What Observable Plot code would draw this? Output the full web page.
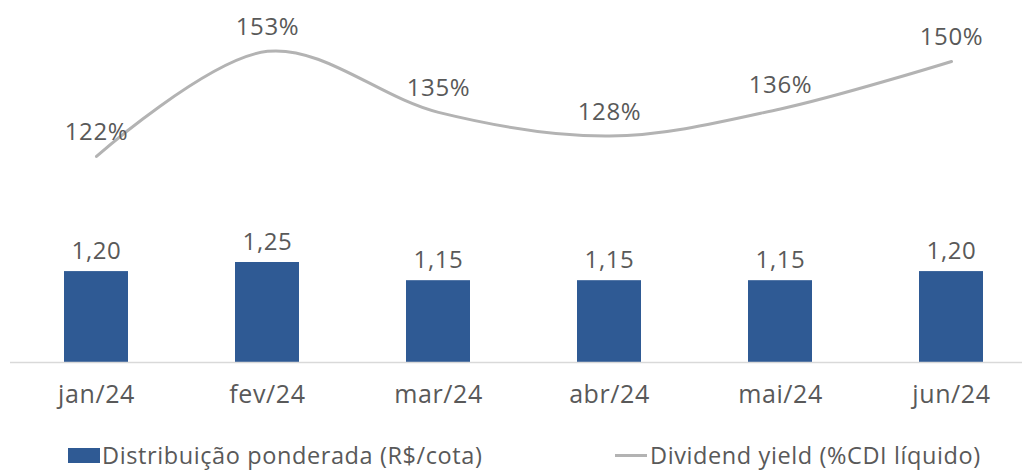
<!DOCTYPE html>
<html>
<head>
<meta charset="utf-8">
<script src="https://cdn.jsdelivr.net/npm/d3@7"></script>
<script src="https://cdn.jsdelivr.net/npm/@observablehq/plot@0.6"></script>
<style>
  html, body { margin: 0; padding: 0; background: #fff; }
  #wrap { position: relative; width: 1024px; height: 470px; overflow: hidden; font-family: "Open Sans", sans-serif; }
  #wrap svg { position: absolute; left: 0; top: 0; }
  .legend { position: absolute; top: 443px; font-size: 23.5px; letter-spacing: 0.6px; color: #595959; white-space: nowrap; display: flex; align-items: center; line-height: 24px; }
  .sw { display: inline-block; width: 32px; height: 15px; background: #2F5A94; margin-right: 2px; }
  .ln { display: inline-block; width: 32px; height: 3px; background: #b3b3b3; margin-right: 3px; }
</style>
</head>
<body>
<div id="wrap"></div>
<script>
const months = ["jan/24", "fev/24", "mar/24", "abr/24", "mai/24", "jun/24"];
const distribution = [1.20, 1.25, 1.15, 1.15, 1.15, 1.20];
const distributionLabels = ["1,20", "1,25", "1,15", "1,15", "1,15", "1,20"];
const dividendYield = [122, 153, 135, 128, 136, 150];
const yieldLabels = ["122%", "153%", "135%", "128%", "136%", "150%"];
const legendLabels = ["Distribuição ponderada (R$/cota)", "Dividend yield (%CDI líquido)"];

const bars = months.map((m, i) => ({month: m, value: distribution[i], label: distributionLabels[i]}));
const line = months.map((m, i) => ({month: m, value: dividendYield[i], label: yieldLabels[i]}));

const W = 1024, H = 420;
const xOpts = {type: "band", domain: months, range: [9.4, 1036.6], paddingInner: 0.626, paddingOuter: 0.313, align: 0.5};
const common = {width: W, height: H, marginTop: 0, marginBottom: 58, marginLeft: 10, marginRight: 2,
  style: {fontFamily: "'Open Sans', sans-serif", background: "transparent", overflow: "visible", letterSpacing: "0.6px"}};

const barPlot = Plot.plot({
  ...common,
  x: {...xOpts, label: null},
  y: {domain: [0.7, 2.691], axis: null},
  marks: [
    Plot.barY(bars, {x: "month", y1: 0.7, y2: "value", fill: "#2F5A94"}),
    Plot.ruleY([0.7], {stroke: "#d9d9d9", strokeWidth: 1.5}),
    Plot.text(bars, {x: "month", y: "value", text: "label", dy: -20, lineAnchor: "middle", fill: "#595959", fontSize: 24}),
    Plot.axisX({tickSize: 0, tickPadding: 23, fontSize: 25, color: "#595959", label: null})
  ]
});

const linePlot = Plot.plot({
  ...common,
  x: {...xOpts, axis: null},
  y: {domain: [61.2, 168.0], axis: null},
  marks: [
    Plot.line(line, {x: "month", y: "value", curve: "catmull-rom", stroke: "#b3b3b3", strokeWidth: 3}),
    Plot.text(line, {x: "month", y: "value", text: "label", dy: -24, lineAnchor: "middle", fill: "#595959", fontSize: 24})
  ]
});

const wrap = document.getElementById("wrap");
wrap.appendChild(barPlot);
wrap.appendChild(linePlot);

const l1 = document.createElement("div");
l1.className = "legend"; l1.style.left = "68px";
l1.innerHTML = '<span class="sw"></span>';
l1.appendChild(document.createTextNode(legendLabels[0]));
const l2 = document.createElement("div");
l2.className = "legend"; l2.style.left = "615px";
l2.innerHTML = '<span class="ln"></span>';
l2.appendChild(document.createTextNode(legendLabels[1]));
wrap.appendChild(l1);
wrap.appendChild(l2);
</script>
</body>
</html>
